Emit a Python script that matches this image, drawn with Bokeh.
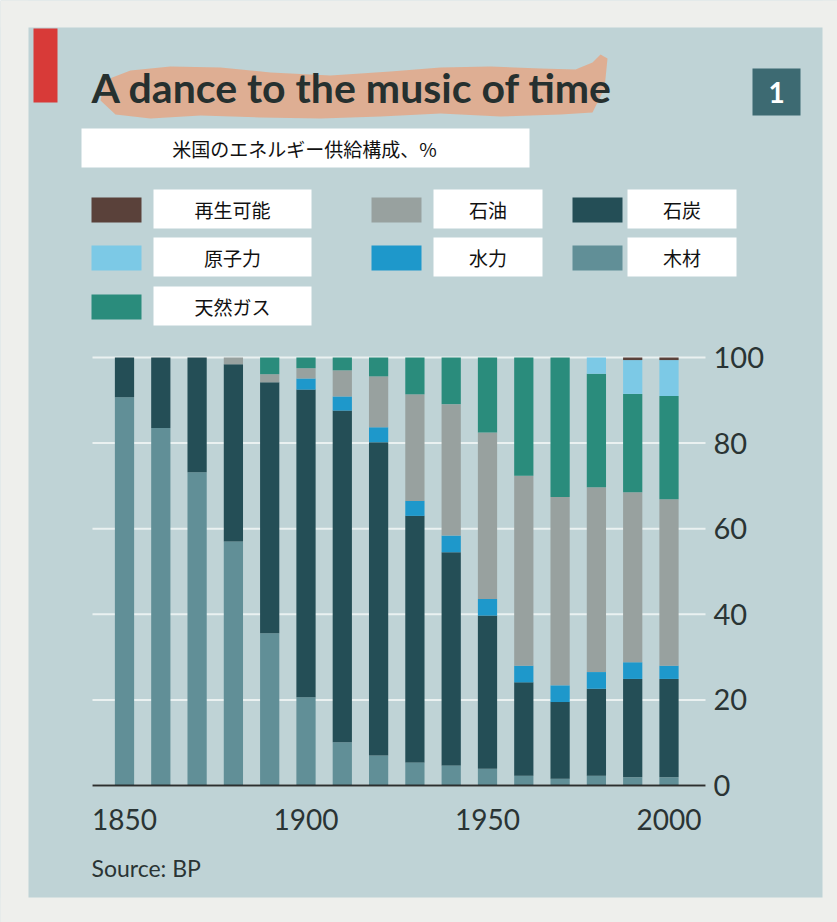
from bokeh.plotting import figure
from bokeh.models import ColumnDataSource, Range1d, FixedTicker
from bokeh.core.properties import value
from bokeh.embed import file_html
from bokeh.resources import INLINE

# US energy supply mix, % of total, by decade
years = [1850, 1860, 1870, 1880, 1890, 1900, 1910, 1920,
         1930, 1940, 1950, 1960, 1970, 1980, 1990, 2000]
wood = [90.7, 83.5, 73.2, 57.0, 35.6, 20.6, 10.1, 7.0,
        5.4, 4.7, 3.9, 2.3, 1.6, 2.3, 1.9, 1.9]
coal = [9.3, 16.5, 26.8, 41.4, 58.6, 71.9, 77.5, 73.2,
        57.6, 49.8, 35.8, 21.8, 17.9, 20.3, 23.0, 23.0]
hydro = [0, 0, 0, 0, 0, 2.6, 3.3, 3.5,
         3.5, 3.9, 3.9, 3.9, 3.9, 3.9, 3.9, 3.1]
oil = [0, 0, 0, 1.6, 1.9, 2.4, 6.1, 11.9,
       24.9, 30.7, 38.9, 44.4, 44.0, 43.2, 39.7, 38.9]
gas = [0, 0, 0, 0, 3.9, 2.5, 3.0, 4.4,
       8.6, 10.9, 17.5, 27.6, 32.6, 26.5, 23.0, 24.1]
nuclear = [0, 0, 0, 0, 0, 0, 0, 0,
           0, 0, 0, 0, 0, 3.8, 7.9, 8.4]
renewables = [0, 0, 0, 0, 0, 0, 0, 0,
              0, 0, 0, 0, 0, 0, 0.6, 0.6]

x_ticks = [1850, 1900, 1950, 2000]
y_ticks = [0, 20, 40, 60, 80, 100]

# stacking order, bottom to top
stack_keys = ["wood", "coal", "hydro", "oil", "gas", "nuclear", "renewables"]
stack_colors = ["#618f97", "#244e56", "#1e98cb", "#98a19f",
                "#2a8c7c", "#7cc9e6", "#5a413a"]

# legend entries: (label, colour, column, row)
legend_items = [
    ("再生可能", "#5a413a", 0, 0),
    ("原子力", "#7cc9e6", 0, 1),
    ("天然ガス", "#2a8c7c", 0, 2),
    ("石油", "#98a19f", 1, 0),
    ("水力", "#1e98cb", 1, 1),
    ("石炭", "#244e56", 2, 0),
    ("木材", "#618f97", 2, 1),
]

PANEL = "#bfd3d6"
PAPER = "#eeefec"
SANS = "Lato"
JP = "Noto Sans CJK JP"
INK = "#2a3434"

W, H = 837, 922
# chart area on the page: left/right edges, y of 100 % and y of 0 %
AL, AR, A_TOP, A_BASE = 92, 705, 357, 785
# pixel positions of the first and last decade
PX_FIRST, PX_LAST = 124, 668.5

x_per_px = (years[-1] - years[0]) / (PX_LAST - PX_FIRST)
y_per_px = 100 / (A_BASE - A_TOP)
x0 = years[0] - PX_FIRST * x_per_px
y1 = 100 + A_TOP * y_per_px
x_range = Range1d(x0, x0 + W * x_per_px)
y_range = Range1d(y1 - H * y_per_px, y1)


def dx(X):
    return x0 + X * x_per_px


def dy(Y):
    return y1 - Y * y_per_px


source = ColumnDataSource(dict(year=years, wood=wood, coal=coal, hydro=hydro,
                               oil=oil, gas=gas, nuclear=nuclear,
                               renewables=renewables))

p = figure(width=W, height=H, x_range=x_range, y_range=y_range,
           y_axis_location="right", toolbar_location=None,
           output_backend="svg", min_border=0)
p.background_fill_color = PANEL
p.border_fill_color = PANEL
p.outline_line_color = None
p.xgrid.visible = False
p.ygrid.visible = False

# paper margins around the panel
p.quad(left=[dx(0), dx(0), dx(0), dx(822)],
       right=[dx(W), dx(W), dx(28), dx(W)],
       top=[dy(0), dy(897), dy(0), dy(0)],
       bottom=[dy(27), dy(H), dy(H), dy(H)],
       fill_color=PAPER, line_color=None)

# white gridlines across the chart area
p.segment(x0=[dx(AL)] * len(y_ticks), x1=[dx(AR)] * len(y_ticks),
          y0=y_ticks, y1=y_ticks, line_color="#eef4f4",
          line_width=2, line_alpha=0.9)

p.vbar_stack(stack_keys, x="year", width=5.3, color=stack_colors,
             line_color=None, source=source)

# axes pinned inside the page
xa = p.xaxis[0]
xa.fixed_location = 0
xa.bounds = (dx(AL), dx(AR))
xa.ticker = FixedTicker(ticks=x_ticks)
xa.axis_line_color = "#2b2f2f"
xa.axis_line_width = 2
xa.major_tick_line_color = None
xa.minor_tick_line_color = None
xa.major_label_standoff = 17
xa.major_label_text_font = SANS
xa.major_label_text_font_size = "28px"
xa.major_label_text_color = INK

ya = p.yaxis[0]
ya.fixed_location = dx(AR)
ya.bounds = (0, 100)
ya.ticker = FixedTicker(ticks=y_ticks)
ya.axis_line_color = None
ya.major_tick_line_color = None
ya.minor_tick_line_color = None
ya.major_label_standoff = 2
ya.major_label_text_font = SANS
ya.major_label_text_font_size = "29px"
ya.major_label_text_color = INK

# red tab
p.quad(left=[dx(33)], right=[dx(57)], top=[dy(28)], bottom=[dy(102)],
       fill_color="#d83a38", line_color=None)

# highlighter stroke behind the headline
brush_x = [104, 130, 170, 220, 270, 330, 390, 440, 490, 540, 575, 592, 600, 607,
           604, 592, 560, 500, 440, 380, 320, 260, 200, 150, 115, 100]
brush_y = [80, 70, 66, 67, 72, 75, 71, 67, 66, 68, 69, 62, 54, 58,
           88, 112, 114, 116, 113, 116, 118, 117, 115, 118, 114, 100]
p.patch([dx(v) for v in brush_x], [dy(v) for v in brush_y],
        fill_color="#e8a27c", fill_alpha=0.75, line_color=None)

p.text(x=[dx(91)], y=[dy(87)], text=["A dance to the music of time"],
       text_font=value(SANS), text_font_size="41px", text_font_style="bold",
       text_color="#26302f", text_baseline="middle", text_align="left")

# chart number tag
p.quad(left=[dx(752)], right=[dx(800)], top=[dy(68)], bottom=[dy(115)],
       fill_color="#3d6a72", line_color=None)
p.text(x=[dx(776)], y=[dy(92)], text=["1"], text_font=value(SANS),
       text_font_size="28px", text_font_style="bold", text_color="#ffffff",
       text_align="center", text_baseline="middle")

# subtitle
p.quad(left=[dx(81)], right=[dx(529)], top=[dy(128)], bottom=[dy(167)],
       fill_color="#ffffff", line_color=None)
p.text(x=[dx(304)], y=[dy(148)], text=["米国のエネルギー供給構成、%"],
       text_font=value(JP), text_font_size="19px", text_color="#111111",
       text_align="center", text_baseline="middle")

# legend: colour swatches and white label boxes
col_sw = [91, 371, 572]
col_box = [(153, 311), (433, 542), (627, 736)]
row_top = [189, 237, 286]
sw_l, sw_r, sw_t, sw_b, sw_c = [], [], [], [], []
lb_l, lb_r, lb_t, lb_b, lb_x, lb_y, lb_s = [], [], [], [], [], [], []
for label, color, c, r in legend_items:
    top = row_top[r]
    sw_l.append(dx(col_sw[c]))
    sw_r.append(dx(col_sw[c] + 50))
    sw_t.append(dy(top + 8))
    sw_b.append(dy(top + 33))
    sw_c.append(color)
    bx0, bx1 = col_box[c]
    lb_l.append(dx(bx0))
    lb_r.append(dx(bx1))
    lb_t.append(dy(top))
    lb_b.append(dy(top + 39))
    lb_x.append(dx((bx0 + bx1) / 2))
    lb_y.append(dy(top + 20))
    lb_s.append(label)
p.quad(left=sw_l, right=sw_r, top=sw_t, bottom=sw_b,
       fill_color=sw_c, line_color=None)
p.quad(left=lb_l, right=lb_r, top=lb_t, bottom=lb_b,
       fill_color="#ffffff", line_color=None)
p.text(x=lb_x, y=lb_y, text=lb_s, text_font=value(JP), text_font_size="19px",
       text_color="#111111", text_align="center", text_baseline="middle")

# source note
p.text(x=[dx(91)], y=[dy(867)], text=["Source: BP"], text_font=value(SANS),
       text_font_size="23px", text_color=INK,
       text_align="left", text_baseline="middle")

open("out.html", "w").write(file_html(p, INLINE))
